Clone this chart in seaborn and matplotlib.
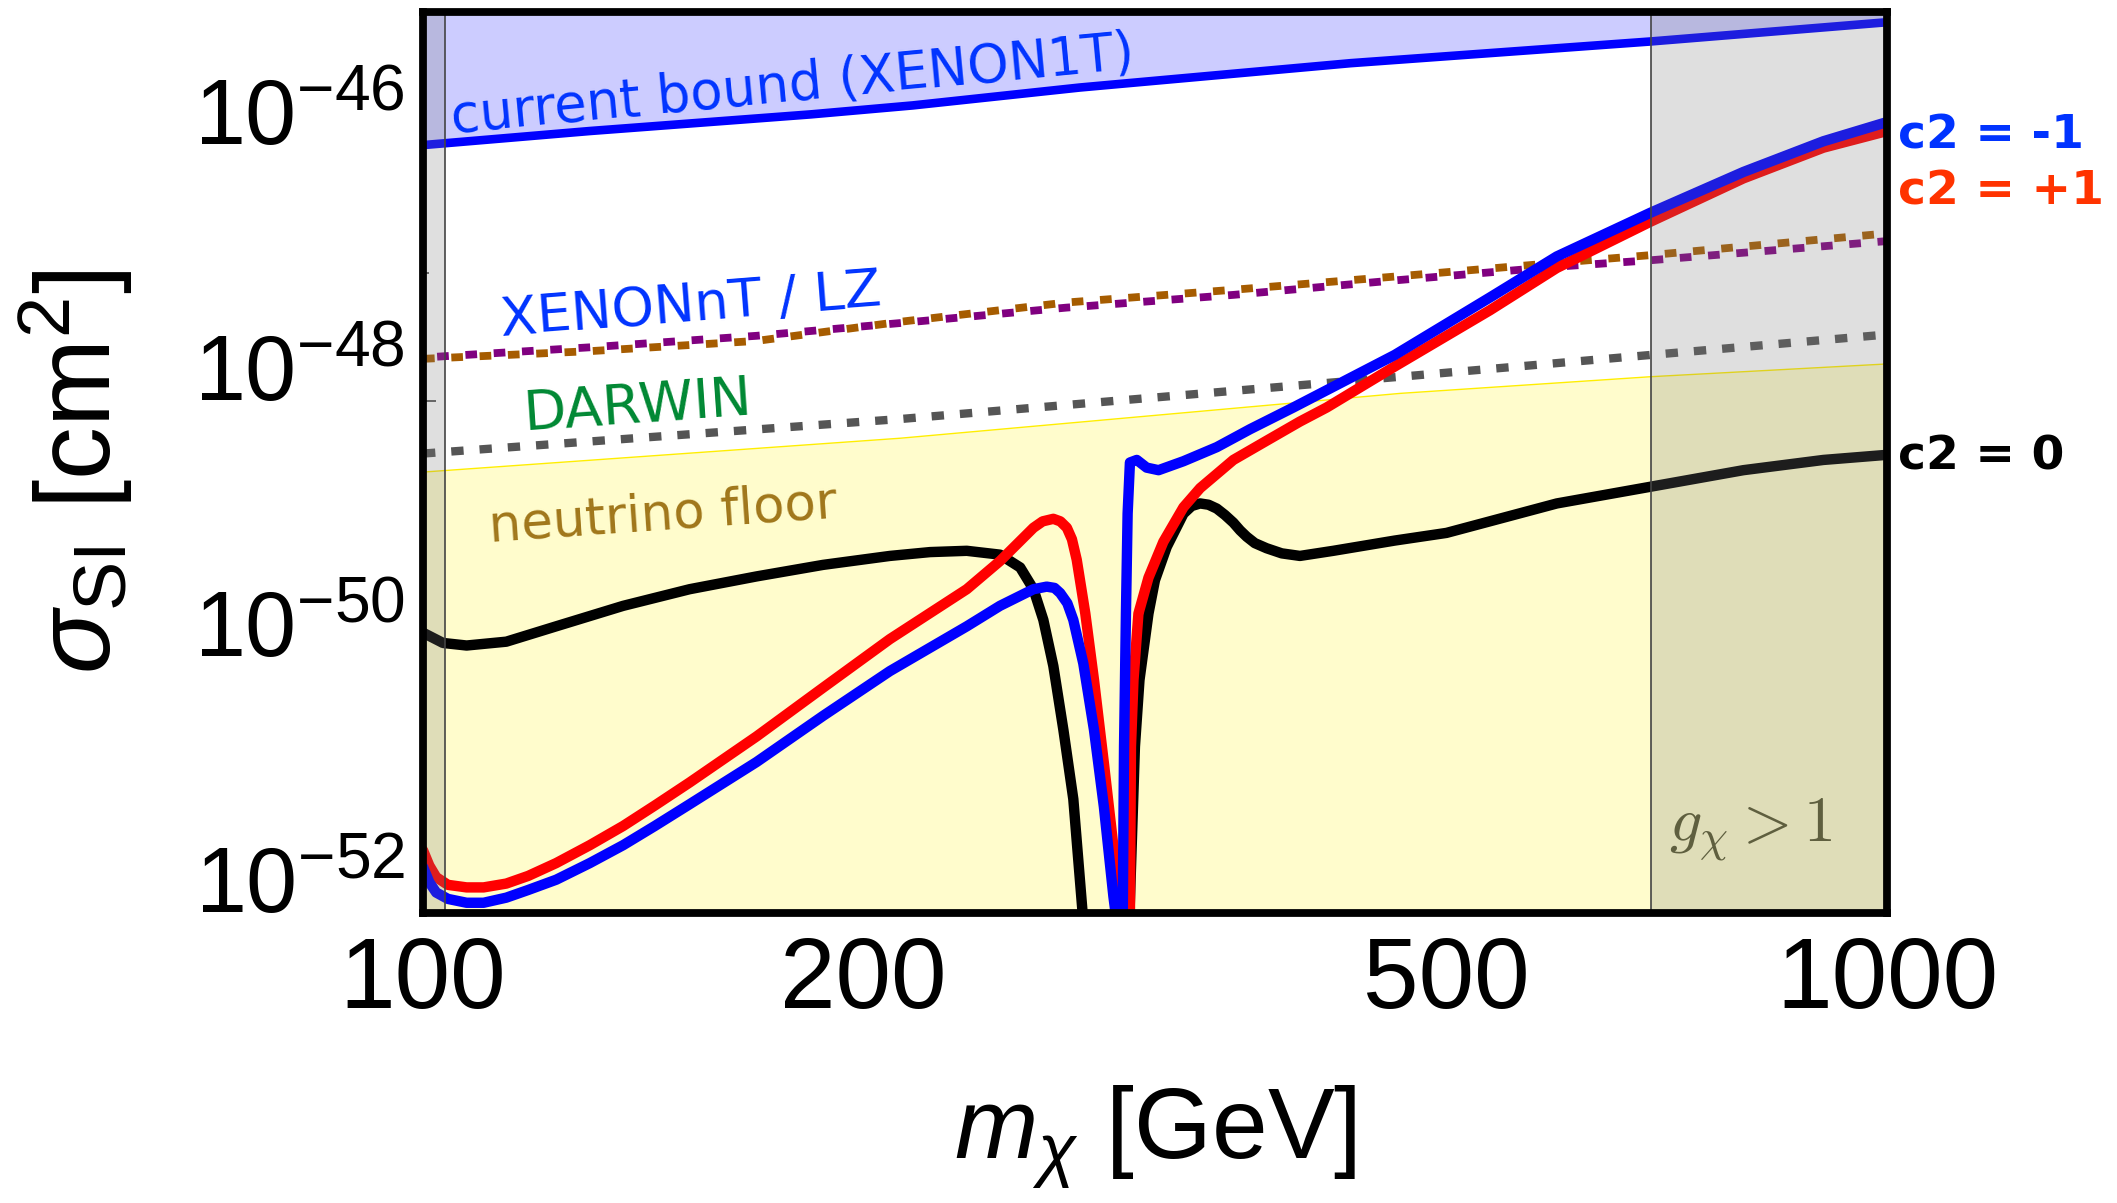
import numpy as np
import pandas as pd
import matplotlib
matplotlib.use("Agg")
import matplotlib.pyplot as plt
import matplotlib.transforms as mtransforms
from matplotlib.ticker import FixedLocator, FixedFormatter, NullFormatter
import seaborn as sns

# ==================== DATA ====================
# cross sections are given as log10(sigma / cm^2)
m_c0 = [100, 103.2, 107.1, 114, 123.3, 137, 152.1, 169, 187.6, 208.4, 222, 235.2,
        247.8, 255.8, 261.2, 265.3, 269.5, 273.8, 278.1, 282.2, 293, 303.8, 306.4,
        308.6, 313.0, 316.2, 322.1, 330.7, 335, 339.5, 344, 348.5, 353, 357.7, 361.5,
        365.3, 370, 376.9, 386, 397.2, 418.6, 461, 500.2, 594.9, 688.9, 797.8, 904.8,
        1000]
lg_c0 = [-49.81, -49.89, -49.91, -49.88, -49.76, -49.60, -49.47, -49.37, -49.28, -49.21,
         -49.18, -49.17, -49.20, -49.30, -49.47, -49.71, -50.07, -50.57, -51.11, -52.0,
         -55.0, -52.0, -50.70, -50.18, -49.66, -49.40, -49.14, -48.88, -48.82, -48.80,
         -48.81, -48.84, -48.89, -48.95, -49.01, -49.06, -49.11, -49.15, -49.19, -49.21,
         -49.17, -49.09, -49.03, -48.80, -48.67, -48.54, -48.46, -48.42]

m_cp1 = [100, 101, 102.1, 104, 107.1, 110, 114, 118, 123.3, 130, 137, 144, 152.1, 169,
         187.6, 208.4, 235.2, 247.8, 261.2, 265, 269.5, 272.5, 275.3, 277.5, 279.6,
         283.4, 287.3, 291.8, 296.2, 299.3, 301.6, 304.0, 304.5, 305.7, 308.1, 313.0,
         320.4, 330.7, 339.5, 357.7, 376.9, 397.2, 414.3, 461, 535.6, 594.9, 688.9,
         797.8, 904.8, 1000]
lg_cp1 = [-51.51, -51.63, -51.72, -51.78, -51.80, -51.80, -51.77, -51.71, -51.61, -51.47,
          -51.32, -51.16, -50.98, -50.62, -50.24, -49.86, -49.47, -49.25, -48.99, -48.94,
          -48.92, -48.94, -48.99, -49.08, -49.24, -49.66, -50.18, -50.83, -51.48, -52.0,
          -54.0, -52.0, -50.70, -50.18, -49.66, -49.38, -49.10, -48.83, -48.68, -48.46,
          -48.31, -48.16, -48.05, -47.73, -47.29, -46.96, -46.60, -46.26, -46.02, -45.89]

m_cm1 = [100, 101, 102.1, 104, 107.1, 110, 114, 118, 123.3, 130, 137, 144, 152.1, 169,
         187.6, 208.4, 235.2, 247.8, 261.2, 266.7, 270, 272.4, 275.5, 278.1, 282.5,
         287.3, 291.8, 296.2, 297.2, 299.0, 300.6, 301.2, 302.1, 302.9, 304.0, 307.3,
         312.1, 318.0, 330.7, 348.5, 367.2, 393.1, 461, 535.6, 594.9, 688.9, 797.8,
         904.8, 1000]
lg_cm1 = [-51.64, -51.76, -51.84, -51.89, -51.92, -51.92, -51.88, -51.82, -51.74, -51.61,
          -51.47, -51.32, -51.15, -50.82, -50.46, -50.11, -49.76, -49.60, -49.47, -49.45,
          -49.46, -49.50, -49.58, -49.71, -50.05, -50.57, -51.17, -51.87, -52.0, -54.0,
          -52.0, -50.70, -49.66, -48.88, -48.48, -48.46, -48.52, -48.54, -48.47, -48.36,
          -48.22, -48.05, -47.64, -47.19, -46.87, -46.53, -46.21, -45.97, -45.82]

m_bound = [100, 130, 184, 216, 281, 430, 690, 1000]
lg_bound = [-46.00, -45.89, -45.76, -45.69, -45.55, -45.36, -45.19, -45.04]

m_xnt = [100, 130, 169, 212, 275, 358, 458, 595, 689, 1000]
lg_xnt = [-47.66, -47.58, -47.49, -47.39, -47.27, -47.17, -47.06, -46.95, -46.90, -46.75]
lg_lz = [-47.67, -47.61, -47.53, -47.38, -47.23, -47.13, -47.03, -46.92, -46.86, -46.69]

m_darwin = [100, 212, 465, 689, 1000]
lg_darwin = [-48.41, -48.14, -47.81, -47.64, -47.48]

m_nu = [100, 212, 465, 689, 1000]
lg_nu = [-48.555, -48.29, -47.94, -47.81, -47.71]

gray_left = (100, 103.6)
gray_right = (690, 1000)

x_major = [100, 200, 500, 1000]
x_minor = [300, 400, 600, 700, 800, 900]
y_major = [1e-52, 1e-50, 1e-48, 1e-46]
y_major_labels = [r"$10^{-52}$", r"$10^{-50}$", r"$10^{-48}$", r"$10^{-46}$"]
y_minor = [1e-51, 1e-49, 1e-47]

# ==================== STYLE ====================
sns.set_style("white")
plt.rcParams["font.family"] = ["Liberation Sans", "DejaVu Sans"]
plt.rcParams["mathtext.fontset"] = "custom"
plt.rcParams["mathtext.rm"] = "Liberation Sans"
plt.rcParams["mathtext.it"] = "Liberation Sans:italic"
plt.rcParams["mathtext.bf"] = "Liberation Sans:bold"
plt.rcParams["lines.scale_dashes"] = False

fig = plt.figure(figsize=(21.17, 12.03), dpi=100)
ax = fig.add_axes([423 / 2117, 290 / 1203, 1464 / 2117, 901 / 1203])
ax.set_xscale("log")
ax.set_yscale("log")
ax.set_xlim(100, 1000)
ax.set_ylim(1e-52, 10 ** -44.96)


def curve(m, lg):
    return pd.DataFrame({"m": m, "sigma": 10.0 ** np.array(lg)})


# shaded regions
bound = curve(m_bound, lg_bound)
ax.fill_between(bound["m"], bound["sigma"], 1e-44, color="#ccccff", lw=0, zorder=1)
nu = curve(m_nu, lg_nu)
ax.fill_between(nu["m"], 1e-53, nu["sigma"], color="#fffccc", lw=0, zorder=1)
sns.lineplot(data=nu, x="m", y="sigma", color="#ffee00", linewidth=1.0,
             sort=False, estimator=None, ax=ax, zorder=1.5)

# projected sensitivities
sns.lineplot(data=curve(m_darwin, lg_darwin), x="m", y="sigma", color="#555555",
             linewidth=6.0, linestyle=(0, (8.9, 11.5)), sort=False, estimator=None,
             ax=ax, zorder=2)
sns.lineplot(data=curve(m_xnt, lg_lz), x="m", y="sigma", color="#a65c00",
             linewidth=5.6, linestyle=(0, (8.4, 12.0)), sort=False, estimator=None,
             ax=ax, zorder=2)
sns.lineplot(data=curve(m_xnt, lg_xnt), x="m", y="sigma", color="#800080",
             linewidth=5.6, linestyle=(10.2, (8.4, 12.0)), sort=False, estimator=None,
             ax=ax, zorder=2)

# current bound
sns.lineplot(data=bound, x="m", y="sigma", color="#0000ff", linewidth=6.2,
             sort=False, estimator=None, ax=ax, zorder=3)

# model curves
for m, lg, col in [(m_c0, lg_c0, "black"), (m_cp1, lg_cp1, "#ff0000"),
                   (m_cm1, lg_cm1, "#0000ff")]:
    sns.lineplot(data=curve(m, lg), x="m", y="sigma", color=col, linewidth=7.5,
                 sort=False, estimator=None, ax=ax, zorder=3,
                 solid_joinstyle="round")

# excluded g_chi regions (grey overlay)
for lo, hi in [gray_left, gray_right]:
    ax.axvspan(lo, hi, color="#7b7b7b", alpha=0.24, lw=0, zorder=4)
ax.axvline(gray_left[1], color="#444444", lw=1.2, zorder=4)
ax.axvline(gray_right[0], color="#444444", lw=1.2, zorder=4)

# region labels
lbl = dict(family="DejaVu Sans", rotation_mode="anchor",
           ha="left", va="baseline", zorder=5)
ax.text(104.8, 10 ** -45.90, "current bound (XENON1T)", color="#0033ff",
        rotation=5.4, fontsize=38, **lbl)
ax.text(113.1, 10 ** -47.49, "XENONnT / LZ", color="#0033ff", rotation=4.5,
        fontsize=39, **lbl)
ax.text(117.3, 10 ** -48.22, "DARWIN", color="#008833", rotation=4, fontsize=40, **lbl)
ax.text(111.1, 10 ** -49.10, "neutrino floor", color="#a0761a", rotation=4,
        fontsize=37, **lbl)
ax.text(710, 10 ** -51.44, r"$g_\chi > 1$", color="#5f5f3f", fontsize=46,
        math_fontfamily="cm", ha="left", va="baseline", zorder=5)

# curve labels right of the frame
trans = mtransforms.blended_transform_factory(ax.transAxes, ax.transData)
for y, txt, col in [(-45.93, "c2 = -1", "#0033ff"), (-46.37, "c2 = +1", "#ff3300"),
                    (-48.44, "c2 = 0", "black")]:
    ax.text(1.0075, 10 ** y, txt, color=col, transform=trans, family="DejaVu Sans",
            fontweight="bold", fontsize=34, ha="left", va="center", clip_on=False)

# ==================== AXES ====================
ax.xaxis.set_major_locator(FixedLocator(x_major))
ax.xaxis.set_major_formatter(FixedFormatter([str(v) for v in x_major]))
ax.xaxis.set_minor_locator(FixedLocator(x_minor))
ax.xaxis.set_minor_formatter(NullFormatter())
ax.yaxis.set_major_locator(FixedLocator(y_major))
ax.yaxis.set_major_formatter(FixedFormatter(y_major_labels))
ax.yaxis.set_minor_locator(FixedLocator(y_minor))
ax.yaxis.set_minor_formatter(NullFormatter())

ax.tick_params(axis="x", which="both", direction="in", length=12, width=4.2,
               color="black", labelsize=72, labelcolor="black", pad=16,
               bottom=True, top=False)
ax.tick_params(axis="y", which="major", direction="in", length=9, width=1.2,
               color="#444444", labelsize=66, labelcolor="black", pad=13,
               left=True, right=False)
ax.tick_params(axis="y", which="minor", direction="in", length=4, width=1.2,
               color="#444444", left=True, right=False)
for lab in ax.get_yticklabels():
    lab.set_verticalalignment("baseline")

for sp in ax.spines.values():
    sp.set_linewidth(5.6)
    sp.set_color("black")
    sp.set_zorder(6)

ax.set_xlabel(r"$m_\chi$ [GeV]", fontsize=72, color="black")
ax.set_ylabel(r"$\sigma_{\mathrm{SI}}\ [\mathrm{cm}^2]$", fontsize=76, color="black")
ax.xaxis.set_label_coords(0.5, -0.19)
ax.yaxis.set_label_coords(-0.197, 0.49)

fig.savefig("out.png", dpi=100)
